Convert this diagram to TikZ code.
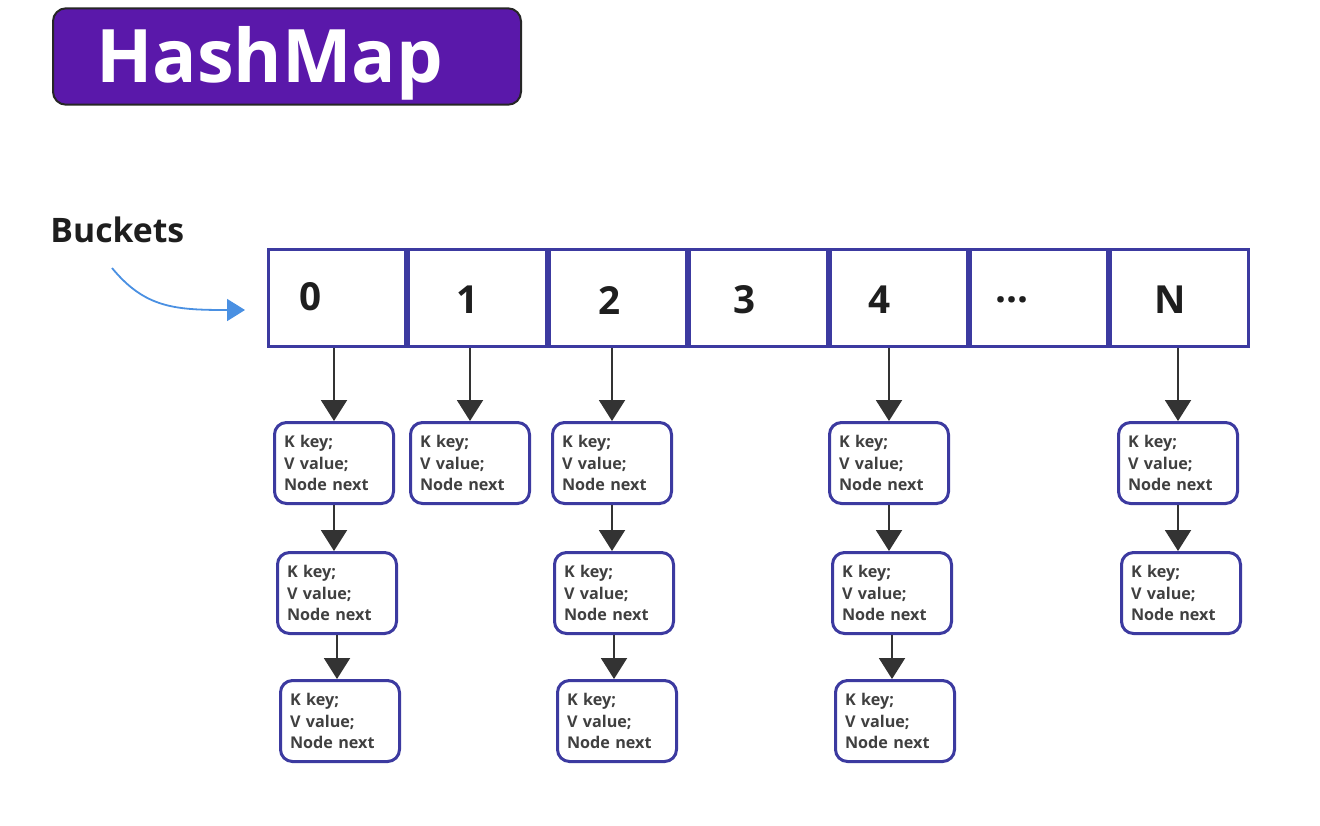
\documentclass[tikz,border=0pt]{standalone}
\usepackage{fontspec}
\setmainfont{Open Sans}
\usetikzlibrary{arrows.meta,positioning}

\definecolor{hmpurple}{RGB}{90,24,170}
\definecolor{hmnavy}{RGB}{60,58,160}
\definecolor{hmblue}{RGB}{74,144,226}
\definecolor{hmtext}{RGB}{30,30,30}

\tikzset{
  cell/.style={draw=hmnavy, line width=0.03cm, minimum width=1.374cm, minimum height=0.97cm, inner sep=0pt},
  idx/.style={font=\fontsize{11}{13}\selectfont\bfseries, text=hmtext},
  entry/.style={draw=hmnavy, line width=0.03cm, rounded corners=0.12cm, fill=white,
    minimum width=1.19cm, minimum height=0.81cm, text width=1.0cm, inner xsep=0.09cm,
    align=left, font=\fontsize{4.6}{6.1}\selectfont\bfseries, text=hmtext!85},
  link/.style={-{Triangle[width=0.26cm,length=0.21cm]}, line width=0.02cm, black!80},
}

\newcommand{\kvn}{K key;\\V value;\\Node next}

\begin{document}
\begin{tikzpicture}
\useasboundingbox (0,0) rectangle (13.2,-8.25);

% title
\node[draw=black!85, line width=0.02cm, fill=hmpurple, rounded corners=0.13cm,
  minimum width=4.68cm, minimum height=0.95cm, text width=3.82cm, inner xsep=0.43cm,
  text height=0.62cm, text depth=0.11cm,
  align=left, font=\fontsize{21}{24}\selectfont\bfseries, text=white] (title) at (2.87,-0.565) {HashMap};

% buckets label
\node[anchor=west, font=\fontsize{9.6}{11}\selectfont\bfseries, text=hmtext] (bkt) at (0.38,-2.30) {Buckets};
\coordinate (bstart) at (1.12,-2.68);

% bucket array
\node[cell] (b0) at (3.372,-2.98) {};
\node[cell, right=0cm of b0] (b1) {};
\node[cell, right=0cm of b1] (b2) {};
\node[cell, right=0cm of b2] (b3) {};
\node[cell, right=0cm of b3] (b4) {};
\node[cell, right=0cm of b4] (b5) {};
\node[cell, right=0cm of b5] (bN) {};

\node[idx] (l0) at (3.11,-2.97) {0};
\node[idx] (l1) at (4.68,-3.00) {1};
\node[idx] (l2) at (6.10,-3.00) {2};
\node[idx] (l3) at (7.45,-3.00) {3};
\node[idx] (l4) at (8.80,-3.00) {4};
\node[idx] (l5) at (10.12,-3.00) {...};
\node[idx] (lN) at (11.70,-3.00) {N};

\draw[hmblue, line width=0.018cm, -{Triangle[width=0.22cm,length=0.18cm]}]
  (bstart) .. controls (1.45,-3.08) and (1.75,-3.10) .. ([shift={(-0.22,-0.12)}]b0.west);

% chains
\node[entry] (n01) at (3.34,-4.63) {\kvn};
\node[entry, below=0.46cm of n01, xshift=0.03cm] (n02) {\kvn};
\node[entry, below=0.44cm of n02, xshift=0.03cm] (n03) {\kvn};

\node[entry] (n11) at (4.70,-4.63) {\kvn};

\node[entry] (n21) at (6.12,-4.63) {\kvn};
\node[entry, below=0.46cm of n21, xshift=0.02cm] (n22) {\kvn};
\node[entry, below=0.44cm of n22, xshift=0.03cm] (n23) {\kvn};

\node[entry] (n41) at (8.89,-4.63) {\kvn};
\node[entry, below=0.46cm of n41, xshift=0.03cm] (n42) {\kvn};
\node[entry, below=0.44cm of n42, xshift=0.03cm] (n43) {\kvn};

\node[entry] (nN1) at (11.78,-4.63) {\kvn};
\node[entry, below=0.46cm of nN1, xshift=0.03cm] (nN2) {\kvn};

% arrows
\draw[link] (b0.south -| n01.north) -- (n01.north);
\draw[link] (b1.south -| n11.north) -- (n11.north);
\draw[link] (b2.south -| n21.north) -- (n21.north);
\draw[link] (b4.south -| n41.north) -- (n41.north);
\draw[link] (bN.south -| nN1.north) -- (nN1.north);

\draw[link] (n01.south) -- (n01.south |- n02.north);
\draw[link] (n02.south) -- (n02.south |- n03.north);
\draw[link] (n21.south) -- (n21.south |- n22.north);
\draw[link] (n22.south) -- (n22.south |- n23.north);
\draw[link] (n41.south) -- (n41.south |- n42.north);
\draw[link] (n42.south) -- (n42.south |- n43.north);
\draw[link] (nN1.south) -- (nN1.south |- nN2.north);
\end{tikzpicture}
\end{document}
